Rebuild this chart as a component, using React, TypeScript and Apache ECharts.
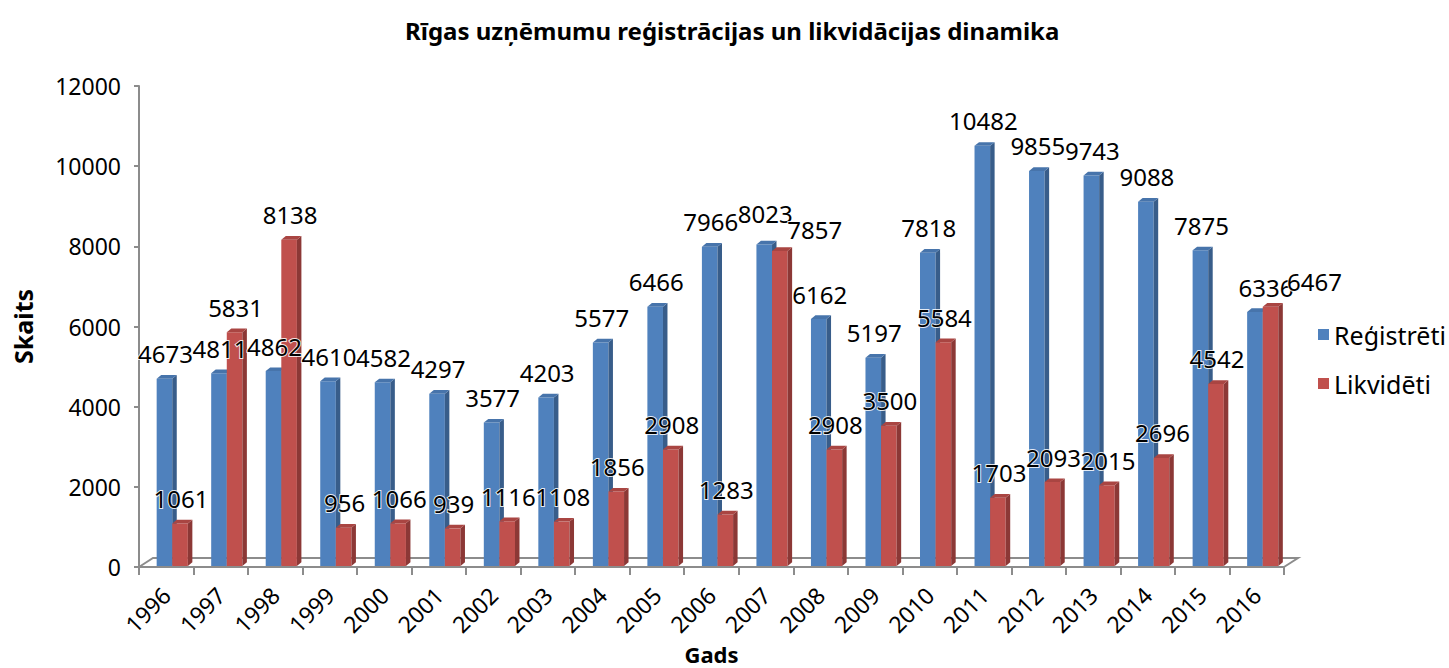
import React, { useEffect, useRef } from "react";
import * as echarts from "echarts";

const years = ["1996","1997","1998","1999","2000","2001","2002","2003","2004","2005","2006","2007","2008","2009","2010","2011","2012","2013","2014","2015","2016"];
const registered = [4673, 4811, 4862, 4610, 4582, 4297, 3577, 4203, 5577, 6466, 7966, 8023, 6162, 5197, 7818, 10482, 9855, 9743, 9088, 7875, 6336];
const liquidated = [1061, 5831, 8138, 956, 1066, 939, 1116, 1108, 1856, 2908, 1283, 7857, 2908, 3500, 5584, 1703, 2093, 2015, 2696, 4542, 6467];
const seriesNames = ["Reģistrēti", "Likvidēti"];
const yTicks = { min: 0, max: 12000, interval: 2000 };

// label nudges (px) for labels that were moved apart in the original chart
const regLabelNudge: Record<number, [number, number]> = { 11: [0, -6], 20: [10, 0] };
const likLabelNudge: Record<number, [number, number]> = { 11: [34, 3], 20: [43, 0] };

const FONT = "'Noto Sans', 'Open Sans', sans-serif";
const BLUE = { front: "#4F81BD", side: "#385D8A", top: "#4774AB" };
const RED = { front: "#C0504D", side: "#8C3836", top: "#A94542" };
const DEPTH_X = 4.5;
const DEPTH_Y = -3.7;

function barGeom(api: any, slot: number) {
  const idx = api.value(0);
  const v = api.value(1);
  const topPt = api.coord([idx, v]);
  const basePt = api.coord([idx, 0]);
  const band = api.size([1, 0])[0];
  const w = band * 0.286;
  const shift = band * 0.11;
  const x0 = basePt[0] + shift - w + slot * w;
  const yb = basePt[1] - 1;
  const yt = topPt[1] - 1;
  return { x0, w, yb, yt, idx };
}

function barRenderer(slot: number, c: { front: string; side: string; top: string }) {
  return (_params: any, api: any) => {
    const { x0, w, yb, yt } = barGeom(api, slot);
    return {
      type: "group",
      children: [
        { type: "rect", shape: { x: x0, y: yt, width: w, height: yb - yt }, style: { fill: c.front } },
        {
          type: "polygon",
          shape: { points: [[x0 + w, yt], [x0 + w + DEPTH_X, yt + DEPTH_Y], [x0 + w + DEPTH_X, yb + DEPTH_Y], [x0 + w, yb]] },
          style: { fill: c.side },
        },
        {
          type: "polygon",
          shape: { points: [[x0, yt], [x0 + DEPTH_X, yt + DEPTH_Y], [x0 + w + DEPTH_X, yt + DEPTH_Y], [x0 + w, yt]] },
          style: { fill: c.top },
        },
      ],
    };
  };
}

function labelRenderer(slot: number, nudges: Record<number, [number, number]>) {
  return (_params: any, api: any) => {
    const { x0, w, yt, idx } = barGeom(api, slot);
    const n = nudges[idx] || [0, 0];
    return {
      type: "text",
      x: x0 + w / 2 + 1 + n[0],
      y: yt - 25 + n[1],
      style: {
        text: String(api.value(1)),
        fill: "#000",
        font: `24px ${FONT}`,
        align: "center",
        verticalAlign: "middle",
        stroke: "rgba(255,255,255,0.85)",
        lineWidth: 2,
      },
    };
  };
}

function floorRenderer(params: any) {
  const cs = params.coordSys;
  const fy = cs.y + cs.height;
  const lx = cs.x;
  const rx = cs.x + cs.width;
  const dx = 14;
  const dy = -9;
  return {
    type: "polyline",
    shape: { points: [[lx, fy], [lx + dx, fy + dy], [rx + dx, fy + dy], [rx, fy]] },
    style: { stroke: "#8C8C8C", lineWidth: 2, fill: "none" },
  };
}

export default function App() {
  const ref = useRef<HTMLDivElement>(null);
  useEffect(() => {
    if (!ref.current) return;
    const chart = echarts.init(ref.current, undefined, { renderer: "svg" });
    const regData = registered.map((v, i) => [i, v]);
    const likData = liquidated.map((v, i) => [i, v]);
    chart.setOption({
      animation: false,
      backgroundColor: "#fff",
      title: {
        text: "Rīgas uzņēmumu reģistrācijas un likvidācijas dinamika",
        left: 400,
        top: 13,
        textStyle: { fontFamily: FONT, fontSize: 24, fontWeight: "bold", color: "#000" },
      },
      legend: {
        data: seriesNames,
        orient: "vertical",
        left: 1313,
        top: 317,
        itemWidth: 11,
        itemHeight: 11,
        itemGap: 24,
        icon: "rect",
        textStyle: { fontFamily: FONT, fontSize: 25, color: "#000" },
      },
      grid: { left: 139, right: 165, top: 86, bottom: 101, containLabel: false, outerBoundsMode: "none" },
      xAxis: {
        type: "category",
        data: years,
        name: "Gads",
        nameLocation: "middle",
        nameGap: 68,
        nameTextStyle: { fontFamily: FONT, fontSize: 22, fontWeight: "bold", color: "#000" },
        axisLine: { show: true, lineStyle: { color: "#8C8C8C", width: 2 } },
        axisTick: { show: true, length: 8, alignWithLabel: false, lineStyle: { color: "#8C8C8C", width: 2 } },
        axisLabel: { rotate: 45, margin: 24, fontFamily: FONT, fontSize: 23, color: "#000", interval: 0 },
        splitLine: { show: false },
      },
      yAxis: {
        type: "value",
        min: yTicks.min,
        max: yTicks.max,
        interval: yTicks.interval,
        name: "Skaits",
        nameLocation: "middle",
        nameGap: 104,
        nameRotate: 90,
        nameTextStyle: { fontFamily: FONT, fontSize: 25, fontWeight: "bold", color: "#000" },
        axisLine: { show: true, lineStyle: { color: "#8C8C8C", width: 2 } },
        axisTick: { show: true, length: 5, lineStyle: { color: "#8C8C8C", width: 2 } },
        axisLabel: { margin: 18, fontFamily: FONT, fontSize: 23, color: "#000", formatter: (v: number) => String(v) },
        splitLine: { show: false },
      },
      series: [
        {
          type: "custom",
          name: "floor",
          data: [[0, 0]],
          renderItem: floorRenderer,
          silent: true,
          z: 1,
          encode: { x: 0, y: 1 },
        },
        {
          type: "custom",
          name: seriesNames[0],
          data: regData,
          encode: { x: 0, y: 1 },
          itemStyle: { color: BLUE.front },
          renderItem: barRenderer(0, BLUE),
          z: 2,
        },
        {
          type: "custom",
          name: seriesNames[1],
          data: likData,
          encode: { x: 0, y: 1 },
          itemStyle: { color: RED.front },
          renderItem: barRenderer(1, RED),
          z: 3,
        },
        {
          type: "custom",
          name: "regLabels",
          data: regData,
          encode: { x: 0, y: 1 },
          renderItem: labelRenderer(0, regLabelNudge),
          z: 10,
          silent: true,
        },
        {
          type: "custom",
          name: "likLabels",
          data: likData,
          encode: { x: 0, y: 1 },
          renderItem: labelRenderer(1, likLabelNudge),
          z: 10,
          silent: true,
        },
      ],
    });
    return () => chart.dispose();
  }, []);
  return (
    <div
      ref={ref}
      style={{ position: "fixed", left: 0, top: 0, width: 1449, height: 668, background: "#fff" }}
    />
  );
}
